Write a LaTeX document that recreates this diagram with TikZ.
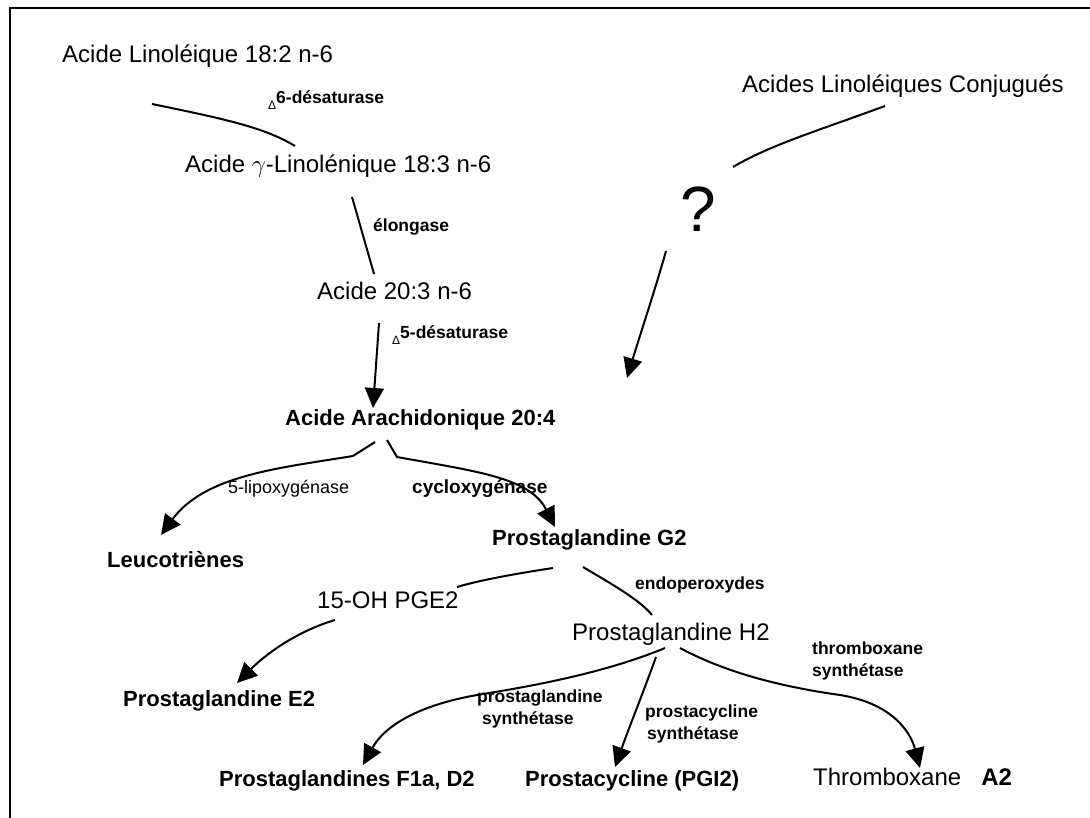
\documentclass[tikz,border=0pt]{standalone}
\usepackage{fontspec}
\setmainfont{Liberation Sans}
\usetikzlibrary{arrows.meta,calc}
\begin{document}
\begin{tikzpicture}[x=1pt,y=-1pt,
  reg/.style={anchor=base west, inner sep=0pt, font=\fontsize{24}{28}\selectfont},
  bigb/.style={anchor=base west, inner sep=0pt, font=\fontsize{22}{26}\selectfont\bfseries},
  lab/.style={anchor=base west, inner sep=0pt, font=\fontsize{17.5}{20}\selectfont\bfseries},
  conn/.style={line width=2pt},
  arr/.style={conn, -{Triangle[length=20pt,width=19pt]}}]
\useasboundingbox (0,0) rectangle (1090,818);
% frame
\draw[line width=2pt] (10,818) -- (10,8) -- (1090,8);

% nodes
\node[reg] (lin) at (62,63) {Acide Linoléique 18:2 n-6};
\node[lab] (d6) at (268,104) {{\fontsize{12}{12}\selectfont\mdseries\raisebox{-6pt}{Δ}}6-désaturase};
\node[reg] (gla) at (185,173) {Acide $\gamma$-Linolénique 18:3 n-6};
\node[lab] (elong) at (373,232) {élongase};
\node[reg] (a203) at (317,300) {Acide 20:3 n-6};
\node[lab] (d5) at (392,338) {{\fontsize{12}{12}\selectfont\mdseries\raisebox{-6pt}{Δ}}5-désaturase};
\node[bigb] (aa) at (285,425) {Acide Arachidonique 20:4};
\node[reg] (cla) at (742,93) {Acides Linoléiques Conjugués};
\node[anchor=base west, inner sep=0pt, font=\fontsize{64}{70}\selectfont] (q) at (680,232) {?};
\node[anchor=base west, inner sep=0pt, font=\fontsize{18}{20}\selectfont] (lipo) at (228,493) {5-lipoxygénase};
\node[anchor=base west, inner sep=0pt, font=\fontsize{19}{22}\selectfont\bfseries] (cox) at (412,493) {cycloxygénase};
\node[bigb] (leu) at (107,567) {Leucotriènes};
\node[bigb] (pgg2) at (492,545) {Prostaglandine G2};
\node[reg] (oh) at (317,608) {15-OH PGE2};
\node[lab] (endo) at (635,589) {endoperoxydes};
\node[reg] (pgh2) at (572,640) {Prostaglandine H2};
\node[bigb] (pge2) at (123,706) {Prostaglandine E2};
\node[lab] (txs1) at (812,654) {thromboxane};
\node[lab] (txs2) at (812,676) {synthétase};
\node[lab] (pgs1) at (477,702) {prostaglandine};
\node[lab] (pgs2) at (482,724) {synthétase};
\node[lab] (pcs1) at (645,717) {prostacycline};
\node[lab] (pcs2) at (647,739) {synthétase};
\node[bigb] (pgf) at (219,786) {Prostaglandines F1a, D2};
\node[bigb] (pgi) at (525,786) {Prostacycline (PGI2)};
\node[reg] (tx) at (813,785) {Thromboxane\hspace{20pt}\textbf{A2}};

% connectors
\draw[conn] ([shift={(90,41)}]lin.base west) .. controls (230,120) and (265,128) .. ([shift={(110,-27)}]gla.base west);
\draw[conn] ([shift={(167,24)}]gla.base west) -- ([shift={(57,-26)}]a203.base west);
\draw[arr] ([shift={(62,23)}]a203.base west) -- ([shift={(88,-17)}]aa.base west);
\draw[conn] ([shift={(143,13)}]cla.base west) .. controls (820,130) and (770,145) .. ([shift={(53,-65)}]q.base west);
\draw[arr] ([shift={(-14,19)}]q.base west) .. controls (655,290) and (640,335) .. ([shift={(342,-47)}]aa.base west);
\draw[arr] ([shift={(90,17)}]aa.base west) -- ([shift={(68,31)}]aa.base west) .. controls (280,468) and (205,475) .. ([shift={(54,-32)}]leu.base west);
\draw[arr] ([shift={(102,15)}]aa.base west) -- ([shift={(112,32)}]aa.base west) .. controls (480,472) and (530,478) .. ([shift={(63,-18)}]pgg2.base west);
\draw[conn] ([shift={(61,23)}]pgg2.base west) .. controls (520,573) and (480,580) .. ([shift={(140,-21)}]oh.base west);
\draw[conn] ([shift={(91,22)}]pgg2.base west) .. controls (610,583) and (640,600) .. ([shift={(80,-25)}]pgh2.base west);
\draw[arr] ([shift={(18,12)}]oh.base west) .. controls (295,632) and (265,655) .. ([shift={(114,-23)}]pge2.base west);
\draw[arr] ([shift={(93,8)}]pgh2.base west) .. controls (600,675) and (520,688) .. (477,695) .. controls (420,705) and (385,725) .. ([shift={(144,-21)}]pgf.base west);
\draw[arr] ([shift={(84,17)}]pgh2.base west) .. controls (643,693) and (630,725) .. ([shift={(90,-19)}]pgi.base west);
\draw[arr] ([shift={(108,8)}]pgh2.base west) .. controls (730,675) and (790,688) .. (840,695) .. controls (890,703) and (910,730) .. ([shift={(107,-17)}]tx.base west);
\end{tikzpicture}
\end{document}
